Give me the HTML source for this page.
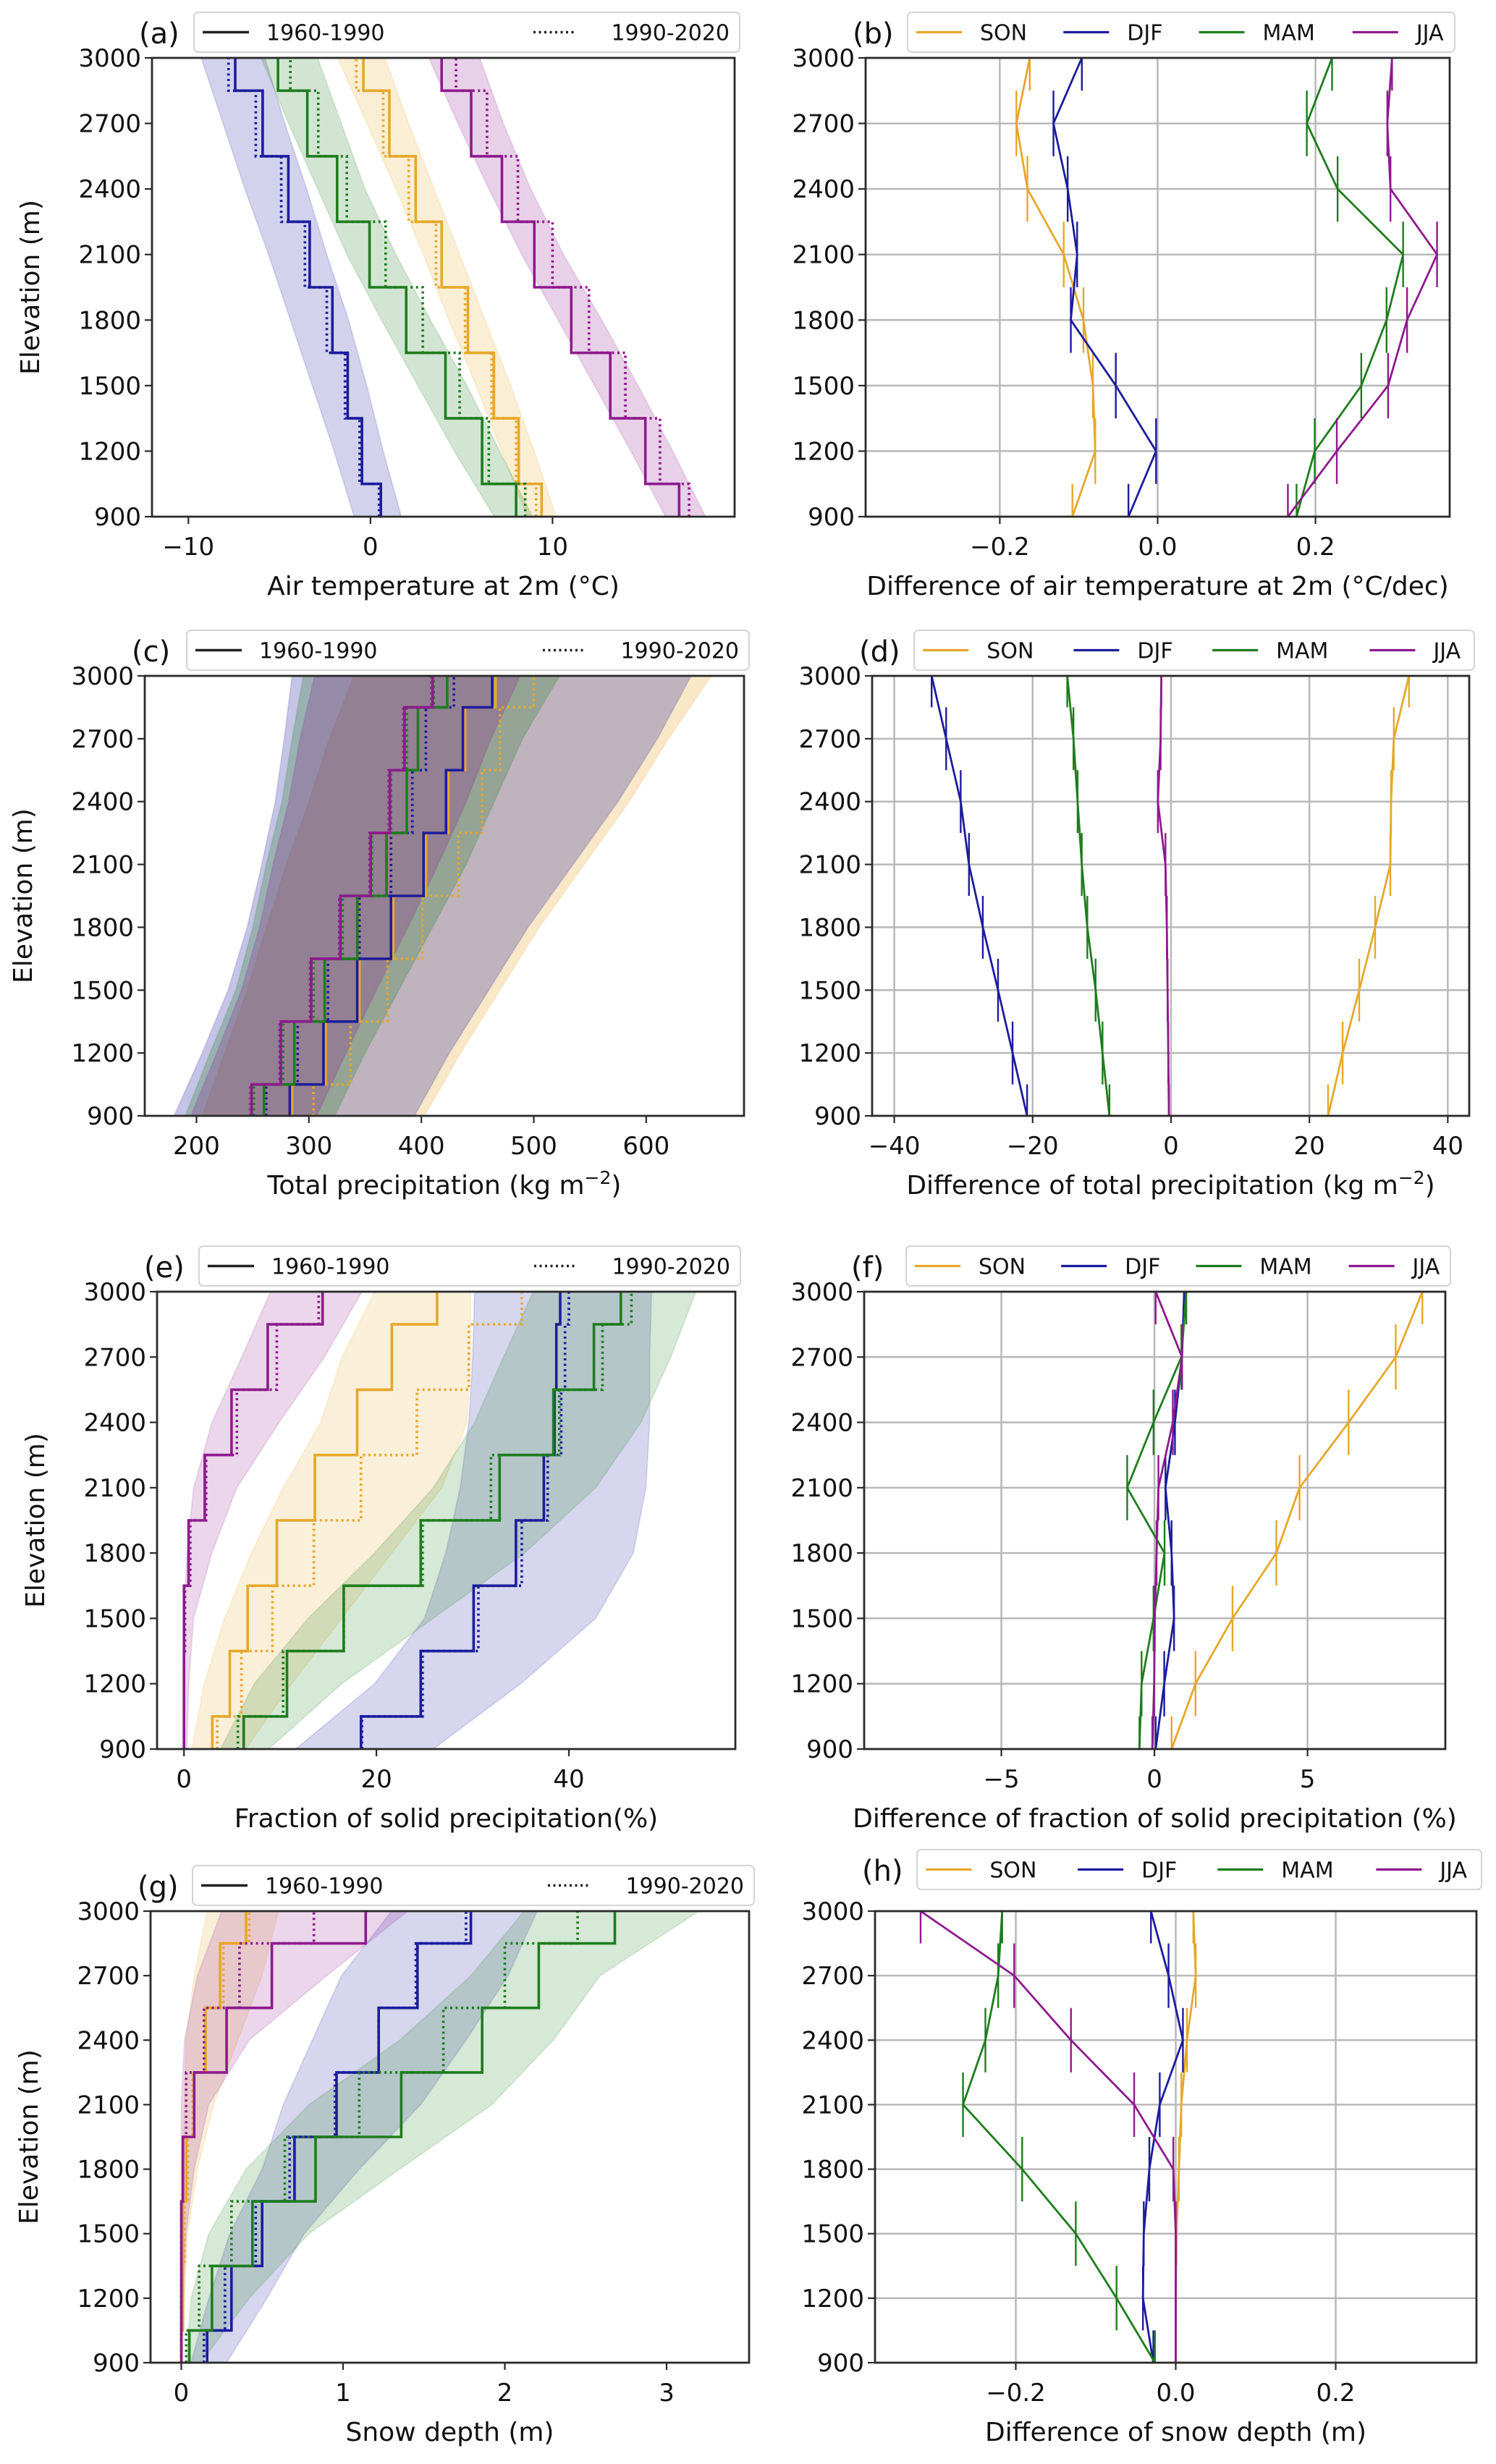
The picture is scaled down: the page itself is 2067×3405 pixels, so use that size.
<!DOCTYPE html>
<html><head><meta charset="utf-8"><title>Elevation profiles</title>
<style>
html,body{margin:0;padding:0;background:#fff;}
svg{display:block;font-family:"DejaVu Sans","Liberation Sans",sans-serif;}
</style></head>
<body>
<svg id="fig" xmlns="http://www.w3.org/2000/svg" width="2067" height="3405" viewBox="0 0 2067 3405"></svg>
<script>
// ---------- shared data ----------
const elev = [900,1200,1500,1800,2100,2400,2700,3000];
const yTicks = [900,1200,1500,1800,2100,2400,2700,3000];
const seasons = ['SON','DJF','MAM','JJA'];
const colors = {SON:'#e6a82a', DJF:'#1c1c9e', MAM:'#1e7d1e', JJA:'#8e1a8e'};

// ---------- (a) air temperature ----------
const a_p1 = {SON:[9.4,8.14,6.78,5.35,3.91,2.48,1.04,-0.39], DJF:[0.57,-0.47,-1.25,-2.09,-3.34,-4.51,-5.92,-7.43], MAM:[8.0,6.13,4.12,1.96,-0.05,-1.83,-3.47,-5.08], JJA:[16.95,15.1,13.17,11.03,9.0,7.22,5.53,3.91]};
const a_p2 = {SON:[9.1,8.0,6.65,5.2,3.6,2.1,0.7,-0.78], DJF:[0.47,-0.6,-1.4,-2.4,-3.6,-4.9,-6.3,-7.8], MAM:[8.5,6.5,4.9,2.87,0.83,-1.3,-2.87,-4.4], JJA:[17.5,15.9,14.0,12.0,10.0,8.1,6.4,4.7]};
const a_lo = {SON:[8.6,7.2,5.8,4.3,2.9,1.4,-0.2,-1.8], DJF:[-0.9,-2.0,-3.2,-4.4,-5.6,-6.9,-8.1,-9.3], MAM:[6.8,4.6,2.6,0.6,-1.3,-2.9,-4.5,-6.0], JJA:[16.2,14.3,12.3,10.3,8.3,6.5,4.8,3.2]};
const a_hi = {SON:[10.2,9.0,7.7,6.3,4.9,3.5,2.1,0.8], DJF:[1.7,0.7,-0.2,-1.2,-2.4,-3.5,-4.7,-5.8], MAM:[8.9,7.1,5.3,3.3,1.4,-0.3,-1.6,-2.9], JJA:[18.4,16.6,14.7,12.7,10.6,8.8,7.3,6.0]};
const a_ticks = [-10,0,10];
const a_tickLabels = ['\u221210','0','10'];

// ---------- (b) diff air temperature ----------
const b_diff = {SON:[-0.108,-0.079,-0.082,-0.094,-0.119,-0.165,-0.179,-0.162], DJF:[-0.037,-0.002,-0.053,-0.110,-0.102,-0.114,-0.132,-0.096], MAM:[0.176,0.199,0.258,0.290,0.311,0.228,0.189,0.221], JJA:[0.165,0.227,0.292,0.316,0.354,0.295,0.291,0.297]};
const b_ticks = [-0.2,0,0.2];
const b_tickLabels = ['\u22120.2','0.0','0.2'];

// ---------- (c) total precipitation ----------
const c_p1 = {SON:[285,315,345,375,404,424,439,466], DJF:[283,313,343,373,402,422,437,463], MAM:[260,287,314,343,369,387,397,423], JJA:[249,275,302,328,355,372,385,410]};
const c_p2 = {SON:[304,337,370,401,433,454,470,500], DJF:[262,290,317,345,373,392,404,429], MAM:[251,277,304,330,356,373,387,411], JJA:[248,274,301,327,354,371,384,409]};
const c_lo = {SON:[205,225,245,262,280,300,318,340], DJF:[180,205,228,245,258,270,278,285], MAM:[190,212,235,250,262,276,285,295], JJA:[195,218,240,256,268,282,292,305]};
const c_hi = {SON:[403,435,470,505,545,585,620,658], DJF:[394,425,460,495,535,575,610,640], MAM:[323,350,380,410,440,465,490,523], JJA:[307,333,360,388,415,440,462,488]};
const c_ticks = [200,300,400,500,600];
const c_tickLabels = ['200','300','400','500','600'];

// ---------- (d) diff total precipitation ----------
const d_diff = {SON:[22.7,24.8,27.2,29.5,31.7,31.8,32.2,34.4], DJF:[-20.8,-22.9,-25.0,-27.2,-29.2,-30.4,-32.5,-34.6], MAM:[-8.9,-9.9,-10.9,-12.1,-12.9,-13.5,-14.1,-15.0], JJA:[-0.3,-0.4,-0.5,-0.6,-0.8,-1.9,-1.5,-1.4]};
const d_ticks = [-40,-20,0,20,40];
const d_tickLabels = ['\u221240','\u221220','0','20','40'];

// ---------- (e) fraction of solid precipitation ----------
const e_p1 = {SON:[2.94,4.76,6.62,9.65,13.6,18.0,21.6,26.3], DJF:[18.4,24.6,30.1,34.5,37.4,38.5,38.7,39.1], MAM:[6.2,10.7,16.6,24.6,32.8,38.4,42.6,45.4], JJA:[0,0,0,0.48,2.16,4.94,8.7,14.4]};
const e_p2 = {SON:[3.46,5.97,9.2,13.5,18.4,24.2,29.6,35.1], DJF:[18.5,24.8,30.6,35.1,37.8,39.2,39.6,40.0], MAM:[5.6,10.3,16.6,24.8,31.9,39.0,43.5,46.5], JJA:[0,0,0.1,0.65,2.3,5.5,9.65,14.0]};
const e_lo = {SON:[0.8,2.1,4.2,7.0,10.3,14.2,16.4,19.8], DJF:[11.6,19.8,25.0,27.2,28.7,29.6,30.0,30.2], MAM:[3.8,7.3,12.9,19.8,25.9,30.2,33.2,36.3], JJA:[0,0,0,0.3,1.0,2.9,6.0,9.0]};
const e_hi = {SON:[6.4,11.2,16.4,21.6,26.8,29.4,29.8,29.8], DJF:[25.9,35.0,42.8,46.7,48.0,48.4,48.4,48.6], MAM:[8.8,16.4,25.9,35.4,42.8,47.5,50.6,53.2], JJA:[0.3,0.5,1.0,2.9,5.5,9.9,14.6,18.5]};
const e_ticks = [0,20,40];
const e_tickLabels = ['0','20','40'];

// ---------- (f) diff fraction of solid precipitation ----------
const f_diff = {SON:[0.56,1.34,2.55,3.98,4.74,6.34,7.88,8.75], DJF:[0.04,0.32,0.64,0.56,0.36,0.67,0.9,0.97], MAM:[-0.49,-0.42,-0.03,0.33,-0.89,-0.03,0.88,1.04], JJA:[-0.07,-0.01,0.01,0.07,0.13,0.6,0.9,0.04]};
const f_ticks = [-5,0,5];
const f_tickLabels = ['\u22125','0','5'];

// ---------- (g) snow depth ----------
const g_p1 = {SON:[0,0.01,0.01,0.03,0.08,0.15,0.24,0.40], DJF:[0.16,0.31,0.50,0.70,0.96,1.22,1.46,1.79], MAM:[0.05,0.19,0.44,0.83,1.36,1.86,2.21,2.68], JJA:[0,0,0,0.01,0.08,0.28,0.56,1.14]};
const g_p2 = {SON:[0,0.01,0.02,0.04,0.07,0.15,0.26,0.42], DJF:[0.14,0.27,0.46,0.67,0.95,1.22,1.45,1.76], MAM:[0.03,0.11,0.31,0.64,1.10,1.62,2.0,2.45], JJA:[0,0,0,0.01,0.03,0.14,0.36,0.82]};
const g_lo = {SON:[0,0,0,0,0.02,0.03,0.08,0.16], DJF:[0.06,0.17,0.3,0.5,0.63,0.81,0.99,1.3], MAM:[0.03,0.06,0.17,0.4,0.79,1.35,1.79,2.12], JJA:[0,0,0,0,0,0.02,0.1,0.25]};
const g_hi = {SON:[0.01,0.02,0.04,0.1,0.2,0.35,0.5,0.6], DJF:[0.28,0.53,0.76,1.1,1.48,1.76,2.02,2.2], MAM:[0.12,0.42,0.79,1.35,1.92,2.3,2.59,3.2], JJA:[0,0.01,0.03,0.08,0.17,0.42,0.9,1.4]};
const g_ticks = [0,1,2,3];
const g_tickLabels = ['0','1','2','3'];

// ---------- (h) diff snow depth ----------
const h_diff = {SON:[0,0,0.001,0.004,0.007,0.014,0.025,0.022], DJF:[-0.028,-0.041,-0.04,-0.033,-0.02,0.009,-0.009,-0.031], MAM:[-0.026,-0.074,-0.125,-0.192,-0.266,-0.238,-0.222,-0.217], JJA:[0,0,0,-0.003,-0.052,-0.131,-0.202,-0.319]};
const h_ticks = [-0.2,0,0.2];
const h_tickLabels = ['\u22120.2','0.0','0.2'];

// ---------- layout ----------
const panels = [
 {id:'a', kind:'step', x0:210,x1:1015,y0:80,y1:714, xmin:-12,xmax:20, ticks:a_ticks, tl:a_tickLabels, p1:a_p1,p2:a_p2,lo:a_lo,hi:a_hi, op:0.2, xlabel:['Air temperature at 2m (\u00b0C)']},
 {id:'b', kind:'diff', x0:1196,x1:2003,y0:80,y1:714, xmin:-0.37,xmax:0.37, ticks:b_ticks, tl:b_tickLabels, d:b_diff, xlabel:['Difference of air temperature at 2m (\u00b0C/dec)']},
 {id:'c', kind:'step', x0:200,x1:1028,y0:934,y1:1542, xmin:154,xmax:687, ticks:c_ticks, tl:c_tickLabels, p1:c_p1,p2:c_p2,lo:c_lo,hi:c_hi, op:0.26, xlabel:['Total precipitation (kg m','\u22122',')']},
 {id:'d', kind:'diff', x0:1205,x1:2030,y0:934,y1:1542, xmin:-43.2,xmax:43.1, ticks:d_ticks, tl:d_tickLabels, d:d_diff, xlabel:['Difference of total precipitation (kg m','\u22122',')']},
 {id:'e', kind:'step', x0:217,x1:1016,y0:1785,y1:2417, xmin:-2.8,xmax:57.3, ticks:e_ticks, tl:e_tickLabels, p1:e_p1,p2:e_p2,lo:e_lo,hi:e_hi, op:0.18, xlabel:['Fraction of solid precipitation(%)']},
 {id:'f', kind:'diff', x0:1194,x1:1997,y0:1785,y1:2417, xmin:-9.48,xmax:9.5, ticks:f_ticks, tl:f_tickLabels, d:f_diff, xlabel:['Difference of fraction of solid precipitation (%)']},
 {id:'g', kind:'step', x0:208,x1:1035,y0:2641,y1:3265, xmin:-0.19,xmax:3.51, ticks:g_ticks, tl:g_tickLabels, p1:g_p1,p2:g_p2,lo:g_lo,hi:g_hi, op:0.18, xlabel:['Snow depth (m)']},
 {id:'h', kind:'diff', x0:1209,x1:2040,y0:2641,y1:3265, xmin:-0.376,xmax:0.376, ticks:h_ticks, tl:h_tickLabels, d:h_diff, xlabel:['Difference of snow depth (m)'], legendUp:true}
];

const NS = 'http://www.w3.org/2000/svg';
const svg = document.getElementById('fig');
function mk(tag, attrs, parent){
  const el = document.createElementNS(NS, tag);
  for (const k in attrs) el.setAttribute(k, attrs[k]);
  (parent||svg).appendChild(el);
  return el;
}

panels.forEach(P => {
  const g = mk('g', {});
  
  
  const sx = v => P.x0 + (v - P.xmin) / (P.xmax - P.xmin) * (P.x1 - P.x0);
  const sy = e => P.y1 - (e - 900) / 2100 * (P.y1 - P.y0);
  const clipId = 'clip-' + P.id;
  const cp = mk('clipPath', {id: clipId}, g);
  mk('rect', {x:P.x0, y:P.y0, width:P.x1-P.x0, height:P.y1-P.y0}, cp);
  const plot = mk('g', {'clip-path':'url(#'+clipId+')'}, g);
  
  

  if (P.kind === 'diff') {
    P.ticks.forEach(t => {
      const gl = mk('line', {x1:sx(t), x2:sx(t), y1:P.y0, y2:P.y1, stroke:'#b8b8b8', 'stroke-width':2.5}, plot);
      
      
    });
    yTicks.forEach(t => {
      const gl = mk('line', {x1:P.x0, x2:P.x1, y1:sy(t), y2:sy(t), stroke:'#b8b8b8', 'stroke-width':2.5}, plot);
      
      
    });
    seasons.forEach(s => {
      const vals = P.d[s];
      const pts = vals.map((v,i) => sx(v).toFixed(1) + ',' + sy(elev[i]).toFixed(1)).join(' ');
      const ln = mk('polyline', {points:pts, fill:'none', stroke:colors[s], 'stroke-width':2.8, 'stroke-linejoin':'round'}, plot);
      
      
      vals.forEach((v,i) => {
        const e1 = Math.max(900, elev[i]-150), e2 = Math.min(3000, elev[i]+150);
        const eb = mk('line', {x1:sx(v), x2:sx(v), y1:sy(e1), y2:sy(e2), stroke:colors[s], 'stroke-width':2.4}, plot);
        
        
      });
    });
  } else {
    seasons.forEach(s => {
      const lo = P.lo[s], hi = P.hi[s];
      const pts = [];
      lo.forEach((v,i) => pts.push(sx(v).toFixed(1)+','+sy(elev[i]).toFixed(1)));
      for (let i = hi.length-1; i >= 0; i--) pts.push(sx(hi[i]).toFixed(1)+','+sy(elev[i]).toFixed(1));
      const bd = mk('polygon', {points:pts.join(' '), fill:colors[s], 'fill-opacity':P.op, stroke:colors[s], 'stroke-opacity':0.12, 'stroke-width':2}, plot);
      
      
    });
    const stepPts = vals => {
      const pts = [];
      vals.forEach((v,i) => {
        const eA = i === 0 ? 900 : elev[i]-150;
        const eB = i === vals.length-1 ? 3000 : elev[i]+150;
        pts.push(sx(v).toFixed(1)+','+sy(eA).toFixed(1));
        pts.push(sx(v).toFixed(1)+','+sy(eB).toFixed(1));
      });
      return pts.join(' ');
    };
    seasons.forEach(s => {
      const l1 = mk('polyline', {points:stepPts(P.p1[s]), fill:'none', stroke:colors[s], 'stroke-width':3.6}, plot);
      
      
      const l2 = mk('polyline', {points:stepPts(P.p2[s]), fill:'none', stroke:colors[s], 'stroke-width':3.6, 'stroke-dasharray':'3 4.5'}, plot);
      
      
    });
  }

  const fr = mk('rect', {x:P.x0, y:P.y0, width:P.x1-P.x0, height:P.y1-P.y0, fill:'none', stroke:'#2a2a2a', 'stroke-width':2.8}, g);
  
  

  yTicks.forEach(t => {
    mk('line', {x1:P.x0-10, x2:P.x0, y1:sy(t), y2:sy(t), stroke:'#2a2a2a', 'stroke-width':2.2}, g);
    const tx = mk('text', {x:P.x0-15, y:sy(t)+12, 'text-anchor':'end', 'font-size':34, fill:'#111'}, g);
    tx.textContent = String(t);
    
    
  });
  P.ticks.forEach((t,i) => {
    mk('line', {x1:sx(t), x2:sx(t), y1:P.y1, y2:P.y1+10, stroke:'#2a2a2a', 'stroke-width':2.2}, g);
    const tx = mk('text', {x:sx(t), y:P.y1+53, 'text-anchor':'middle', 'font-size':34, fill:'#111'}, g);
    tx.textContent = P.tl[i];
    
    
  });
  const xl = mk('text', {x:(P.x0+P.x1)/2, y:P.y1+108, 'text-anchor':'middle', 'font-size':36, fill:'#111'}, g);
  
  
  const t1 = mk('tspan', {}, xl); t1.textContent = P.xlabel[0];
  if (P.xlabel.length > 1) {
    const t2 = mk('tspan', {dy:-14, 'font-size':25}, xl); t2.textContent = P.xlabel[1];
    const t3 = mk('tspan', {dy:14}, xl); t3.textContent = P.xlabel[2];
  }
  if (P.kind === 'step') {
    const cx = P.x0 - 168, cy = (P.y0+P.y1)/2;
    const yl = mk('text', {x:cx, y:cy, 'text-anchor':'middle', 'font-size':36, fill:'#111', transform:'rotate(-90 '+cx+' '+cy+')', dy:12}, g);
    yl.textContent = 'Elevation (m)';
    
    
  }
  const up = P.legendUp ? 22 : 0;
  const pl = mk('text', {x:P.x0-18, y:P.y0-20-up, 'font-size':40, fill:'#111'}, g);
  pl.textContent = '(' + P.id + ')';
  
  

  const bx = P.x0 + 58, bw = (P.x1 + 7) - bx;
  const by = P.y0 - 63 - up, bh = 55;
  const lg = mk('g', {}, g);
  
  
  mk('rect', {x:bx, y:by, width:bw, height:bh, rx:6, fill:'#fff', 'fill-opacity':0.85, stroke:'#d4d4d4', 'stroke-width':2}, lg);
  const ly = by + bh/2;
  if (P.kind === 'step') {
    const e1 = mk('g', {}, lg);
    
    
    mk('line', {x1:bx+12, x2:bx+76, y1:ly, y2:ly, stroke:'#222', 'stroke-width':3.6}, e1);
    const tA = mk('text', {x:bx+100, y:ly+11, 'font-size':30, fill:'#111'}, e1); tA.textContent = '1960-1990';
    const e2 = mk('g', {}, lg);
    
    
    mk('line', {x1:bx+bw-285, x2:bx+bw-229, y1:ly, y2:ly, stroke:'#222', 'stroke-width':3.6, 'stroke-dasharray':'3 4.5'}, e2);
    const tB = mk('text', {x:bx+bw-14, y:ly+11, 'text-anchor':'end', 'font-size':30, fill:'#111'}, e2); tB.textContent = '1990-2020';
  } else {
    const offs = [12, 215, 402, 614];
    seasons.forEach((s,i) => {
      const o = offs[i] * bw / 755;
      const en = mk('g', {}, lg);
      
      
      mk('line', {x1:bx+o, x2:bx+o+63, y1:ly, y2:ly, stroke:colors[s], 'stroke-width':3.2}, en);
      const tt = mk('text', {x:bx+o+88, y:ly+11, 'font-size':30, fill:'#111'}, en);
      tt.textContent = s;
    });
  }
});
</script>
</body></html>
